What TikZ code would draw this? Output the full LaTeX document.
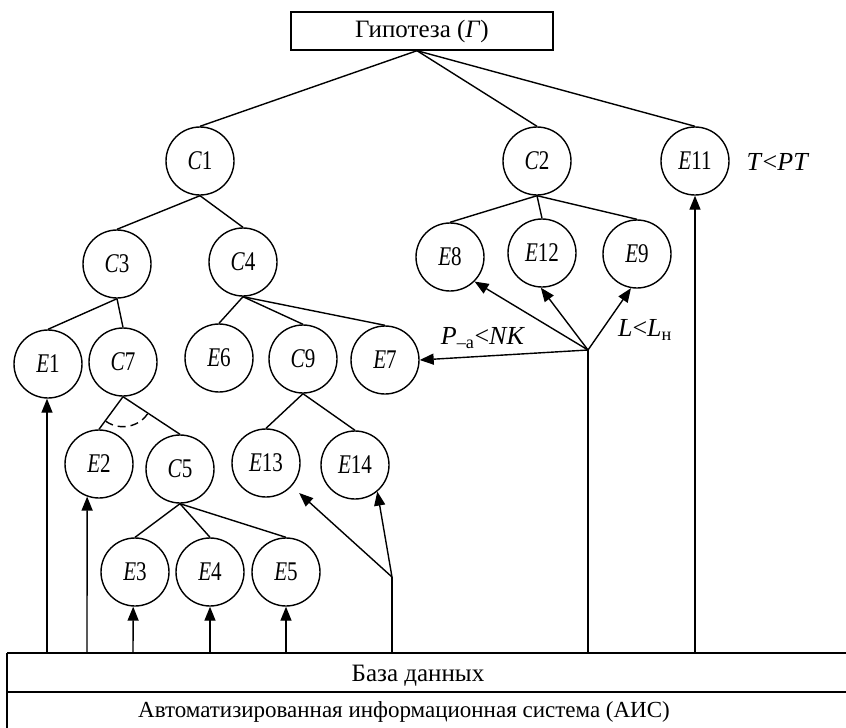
\documentclass[tikz,border=0pt]{standalone}
\usepackage{fontspec}
\setmainfont{Liberation Serif}
\newfontfamily\cfont[FakeStretch=0.78]{Liberation Serif}
\usetikzlibrary{arrows.meta,calc}
\newcommand\nlab[2]{\textit{#1}#2}
\begin{document}
\begin{tikzpicture}[x=1pt,y=-1pt,
  every node/.style={font=\fontsize{23}{26}\selectfont},
  circ/.style={circle,draw,line width=1.4pt,minimum size=68pt,inner sep=0pt,
    font=\cfont\fontsize{27}{30}\selectfont},
  ln/.style={line width=1.4pt},
  arr/.style={line width=1.4pt,-{Triangle[length=14pt,width=11pt]}},
  lbl/.style={inner sep=0pt,font=\fontsize{26}{28}\selectfont}]
\useasboundingbox (0,0) rectangle (846,728);
% hypothesis
\node[draw,line width=1.4pt,minimum width=262pt,minimum height=38pt,inner sep=0pt,
  font=\fontsize{25}{28}\selectfont] (H) at (422,31) {Гипотеза (\textit{Г})};
\coordinate (apex) at ([xshift=-5pt]H.south);
% circles
\node[circ] (C1) at (200,161) {\nlab{C}{1}};
\node[circ] (C2) at (537,161) {\nlab{C}{2}};
\node[circ] (E11) at (695,161) {\nlab{E}{11}};
\node[circ] (C3) at (117,264) {\nlab{C}{3}};
\node[circ] (C4) at (243,262) {\nlab{C}{4}};
\node[circ] (E8) at (450,257) {\nlab{E}{8}};
\node[circ] (E12) at (542,253) {\nlab{E}{12}};
\node[circ] (E9) at (637,254) {\nlab{E}{9}};
\node[circ] (E1) at (48,364) {\nlab{E}{1}};
\node[circ] (C7) at (123,362) {\nlab{C}{7}};
\node[circ] (E6) at (219,358) {\nlab{E}{6}};
\node[circ] (C9) at (303,359) {\nlab{C}{9}};
\node[circ] (E7) at (385,360) {\nlab{E}{7}};
\node[circ] (E2) at (99,464) {\nlab{E}{2}};
\node[circ] (C5) at (180,469) {\nlab{C}{5}};
\node[circ] (E13) at (266,463) {\nlab{E}{13}};
\node[circ] (E14) at (355,465) {\nlab{E}{14}};
\node[circ] (E3) at (135,572) {\nlab{E}{3}};
\node[circ] (E4) at (210,572) {\nlab{E}{4}};
\node[circ] (E5) at (286,572) {\nlab{E}{5}};
% labels
\node[lbl] (PL) at (483,338) {\textit{P}\textsubscript{--а}<\textit{NK}};
\node[lbl] (LL) at (645,330) {\textit{L}<\textit{L}\textsubscript{н}};
\node[lbl] (TL) at (778,162) {\textit{T}<\textit{PT}};
% tree edges
\draw[ln] (apex) -- (C1.north);
\draw[ln] (apex) -- (C2.north);
\draw[ln] (apex) -- (E11.north);
\draw[ln] (C1.south) -- (C3.north);
\draw[ln] (C1.south) -- (C4.north);
\draw[ln] (C2.south) -- (E8.north);
\draw[ln] (C2.south) -- (E12.north);
\draw[ln] (C2.south) -- (E9.north);
\draw[ln] (C3.south) -- (E1.north);
\draw[ln] (C3.south) -- (C7.north);
\draw[ln] (C4.south) -- (E6.north);
\draw[ln] (C4.south) -- (C9.north);
\draw[ln] (C4.south) -- (E7.north);
\draw[ln] (C7.south) -- (E2.north);
\draw[ln] (C7.south) -- (C5.north);
\draw[ln] (C9.south) -- (E13.north);
\draw[ln] (C9.south) -- (E14.north);
\draw[ln] (C5.south) -- (E3.north);
\draw[ln] (C5.south) -- (E4.north);
\draw[ln] (C5.south) -- (E5.north);
% dashed AND arc
\draw[ln,dash pattern=on 8pt off 5pt] ([shift={(-125:30pt)}]C7.south) arc[start angle=-125,end angle=-34,radius=30pt];
% database
\draw[ln] (7,653) -- (846,653);
\draw[ln] (7,692) -- (846,692);
\draw[ln] (7,653) -- (7,728);
\node[anchor=base,font=\fontsize{25}{28}\selectfont] (DB) at (418,681) {База данных};
\node[anchor=base] (AIS) at (404,717) {Автоматизированная информационная система (АИС)};
% feeds
\coordinate (b1) at (47,653);
\coordinate (b2) at (87,653);
\coordinate (b3) at (133,653);
\coordinate (b4) at (210,653);
\coordinate (b5) at (286,653);
\coordinate (b6) at (392,653);
\coordinate (b7) at (588,653);
\coordinate (b8) at (695,653);
\coordinate (J1) at (392,577);
\coordinate (J2) at (588,350);
\draw[arr] (b1) -- (b1 |- E1.south);
\draw[arr] (b2) -- (E2.250);
\draw[arr] (b3) -- (E3.267);
\draw[arr] (b4) -- (E4.south);
\draw[arr] (b5) -- (E5.south);
\draw[ln] (b6) -- (J1);
\draw[arr,shorten >=10pt] (J1) -- (E13);
\draw[arr] (J1) -- (E14.-50);
\draw[ln] (b7) -- (J2);
\draw[arr] (J2) -- (E8.-45);
\draw[arr] (J2) -- (E12.-92);
\draw[arr] (J2) -- (E9.-100);
\draw[arr] (J2) -- (E7.east);
\draw[arr] (b8) -- (E11.south);
\end{tikzpicture}
\end{document}
